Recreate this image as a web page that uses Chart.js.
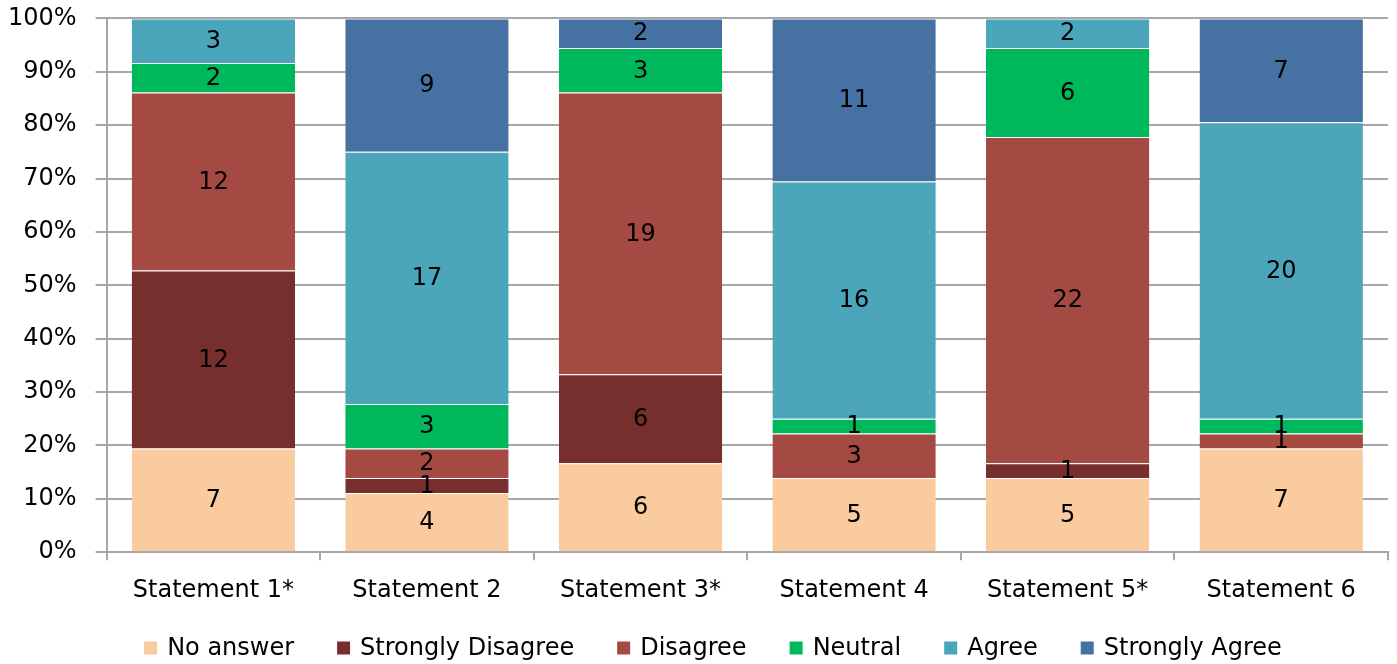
<!DOCTYPE html>
<html>
<head>
<meta charset="utf-8">
<script src="https://cdn.jsdelivr.net/npm/chart.js@4"></script>
<style>
  html, body { margin: 0; padding: 0; background: #fff; overflow: hidden; }
  #wrap { width: 1397px; height: 664px; overflow: hidden; }
  #chart { display: block; margin-top: -15px; }
</style>
</head>
<body>
<div id="wrap"><canvas id="chart" width="1397" height="679"></canvas></div>
<script>
'use strict'
const categories = ['Statement 1*', 'Statement 2', 'Statement 3*', 'Statement 4', 'Statement 5*', 'Statement 6']
const seriesNames = ['No answer', 'Strongly Disagree', 'Disagree', 'Neutral', 'Agree', 'Strongly Agree']
const noAnswer = [7, 4, 6, 5, 5, 7]
const stronglyDisagree = [12, 1, 6, 0, 1, 0]
const disagree = [12, 2, 19, 3, 22, 1]
const neutral = [2, 3, 3, 1, 6, 1]
const agree = [3, 17, 0, 16, 2, 20]
const stronglyAgree = [0, 9, 2, 11, 0, 7]
const colors = ['#FACB9F', '#772F2D', '#A44A42', '#00B85C', '#4BA6BB', '#4672A3']

const counts = [noAnswer, stronglyDisagree, disagree, neutral, agree, stronglyAgree]
const totals = categories.map((c, i) => counts.reduce((a, s) => a + s[i], 0))

const FONT = "'DejaVu Sans', sans-serif"
const FS = 24
const GRID = '#A6A6A6'

const datasets = counts.map((s, k) => ({
  label: seriesNames[k],
  data: s.map((v, i) => (v / totals[i]) * 100),
  counts: s,
  backgroundColor: colors[k],
  borderColor: 'rgba(255,255,255,0.35)',
  borderWidth: { top: 1, bottom: 0, left: 0, right: 0 },
  borderSkipped: false,
  barPercentage: 0.765,
  categoryPercentage: 1,
}))

// draw the counts in the middle of each segment
const countLabels = {
  id: 'countLabels',
  afterDatasetsDraw(chart) {
    const ctx = chart.ctx
    ctx.save()
    ctx.font = FS + 'px ' + FONT
    ctx.fillStyle = '#000'
    ctx.textAlign = 'center'
    ctx.textBaseline = 'middle'
    chart.data.datasets.forEach((ds, k) => {
      const meta = chart.getDatasetMeta(k)
      meta.data.forEach((bar, i) => {
        const v = ds.counts[i]
        if (!v) return
        const p = bar.getCenterPoint()
        ctx.fillText(String(v), p.x, p.y + 1)
      })
    })
    ctx.restore()
  },
}

// legend row at the bottom, wider spacing than the built-in one allows
const bottomLegend = {
  id: 'bottomLegend',
  afterDraw(chart) {
    const ctx = chart.ctx
    const box = 13
    const textGap = 10
    const itemGap = 43
    const y = 663 // canvas is shifted up 15px
    ctx.save()
    ctx.font = FS + 'px ' + FONT
    ctx.textBaseline = 'middle'
    ctx.textAlign = 'left'
    const items = chart.data.datasets.map((ds) => ({
      label: ds.label,
      color: ds.backgroundColor,
      w: box + textGap + ctx.measureText(ds.label).width,
    }))
    const total = items.reduce((a, it) => a + it.w, 0) + itemGap * (items.length - 1)
    let x = 713 - total / 2
    items.forEach((it) => {
      ctx.fillStyle = it.color
      ctx.fillRect(x, y - box / 2, box, box)
      ctx.fillStyle = '#000'
      ctx.fillText(it.label, x + box + textGap, y + 1)
      x += it.w + itemGap
    })
    ctx.restore()
  },
}

const chartInstance = new Chart(document.getElementById('chart').getContext('2d'), {
  type: 'bar',
  data: { labels: categories, datasets: datasets },
  options: {
    responsive: false,
    animation: false,
    layout: { padding: { top: 4, right: 9, left: -11, bottom: 43 } },
    plugins: {
      legend: { display: false },
      tooltip: { enabled: false },
    },
    scales: {
      x: {
        stacked: true,
        offset: true,
        grid: {
          display: true,
          offset: true,
          drawOnChartArea: false,
          drawTicks: true,
          tickLength: 8,
          color: GRID,
          lineWidth: 2,
        },
        border: { color: GRID, width: 2 },
        ticks: {
          color: '#000',
          padding: 16,
          font: { family: FONT, size: FS },
        },
      },
      y: {
        stacked: true,
        min: 0,
        max: 100,
        grid: {
          color: GRID,
          lineWidth: 2,
          tickLength: 11,
        },
        border: { color: GRID, width: 2 },
        ticks: {
          stepSize: 10,
          color: '#000',
          padding: 19,
          font: { family: FONT, size: FS },
          callback: (v) => v + '%',
        },
      },
    },
  },
  plugins: [countLabels, bottomLegend],
})
</script>
</body>
</html>
